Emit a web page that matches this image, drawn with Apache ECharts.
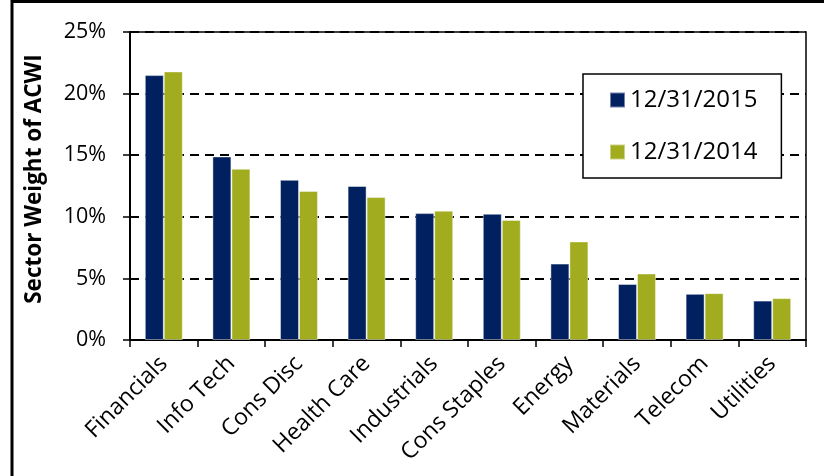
<!DOCTYPE html>
<html>
<head>
<meta charset="utf-8">
<script src="https://cdn.jsdelivr.net/npm/echarts@6/dist/echarts.min.js"></script>
<style>html,body{margin:0;padding:0;background:#fff;}#chart{width:824px;height:476px;}</style>
</head>
<body>
<div id="chart"></div>
<script>
const categories = ['Financials', 'Info Tech', 'Cons Disc', 'Health Care', 'Industrials', 'Cons Staples', 'Energy', 'Materials', 'Telecom', 'Utilities'];
const seriesNames = ['12/31/2015', '12/31/2014'];
const weights2015 = [21.5, 14.9, 13.0, 12.5, 10.3, 10.25, 6.2, 4.55, 3.75, 3.2];
const weights2014 = [21.8, 13.9, 12.1, 11.6, 10.5, 9.75, 8.0, 5.4, 3.8, 3.4];
const yMin = 0, yMax = 25, yStep = 5;
const yTitle = 'Sector Weight of ACWI';

const FONT = '"Open Sans", "DejaVu Sans", sans-serif';
const chart = echarts.init(document.getElementById('chart'), null, {renderer: 'canvas'});
chart.setOption({
  animation: false,
  backgroundColor: '#fff',
  textStyle: {fontFamily: FONT, color: '#000'},
  graphic: [
    {type: 'rect', shape: {x: 12, y: 1.5, width: 1000, height: 1000}, style: {fill: 'none', stroke: '#000', lineWidth: 3}, silent: true},
    {type: 'text', x: 35, y: 179, rotation: Math.PI / 2,
     style: {text: yTitle, font: 'bold 22.5px ' + FONT, fill: '#000', align: 'center', verticalAlign: 'middle'}}
  ],
  grid: {left: 130, right: 18, top: 32, bottom: 136, show: true, borderColor: '#000', borderWidth: 1.5, backgroundColor: 'transparent'},
  legend: {
    orient: 'vertical', left: 583, top: 74,
    data: seriesNames,
    icon: 'rect', itemWidth: 15, itemHeight: 15, itemGap: 28,
    borderColor: '#000', borderWidth: 1.5,
    padding: [14, 24, 14, 26],
    backgroundColor: '#fff',
    textStyle: {fontFamily: FONT, fontSize: 24, lineHeight: 23, color: '#000'}
  },
  xAxis: {
    type: 'category', data: categories,
    axisLine: {lineStyle: {color: '#000', width: 2}},
    axisTick: {show: true, length: 7, lineStyle: {color: '#000', width: 1.5}},
    axisLabel: {rotate: 45, interval: 0, fontSize: 23, color: '#000', margin: 20, fontFamily: FONT}
  },
  yAxis: {
    type: 'value', min: yMin, max: yMax, interval: yStep,
    axisLine: {show: true, lineStyle: {color: '#000', width: 2}},
    axisTick: {show: true, length: 7, lineStyle: {color: '#000', width: 1.5}},
    axisLabel: {formatter: '{value}%', fontSize: 21.5, color: '#000', margin: 24, fontFamily: FONT},
    splitLine: {show: true, lineStyle: {color: '#000', width: 2, type: [9, 6]}}
  },
  series: [
    {name: seriesNames[0], type: 'bar', data: weights2015, barWidth: 19, barGap: '0%',
     itemStyle: {color: '#002060', borderColor: 'rgba(255,255,255,0.45)', borderWidth: 1}},
    {name: seriesNames[1], type: 'bar', data: weights2014, barWidth: 19, barGap: '0%',
     itemStyle: {color: '#A2AC1F', borderColor: 'rgba(255,255,255,0.45)', borderWidth: 1}}
  ]
});
</script>
</body>
</html>
